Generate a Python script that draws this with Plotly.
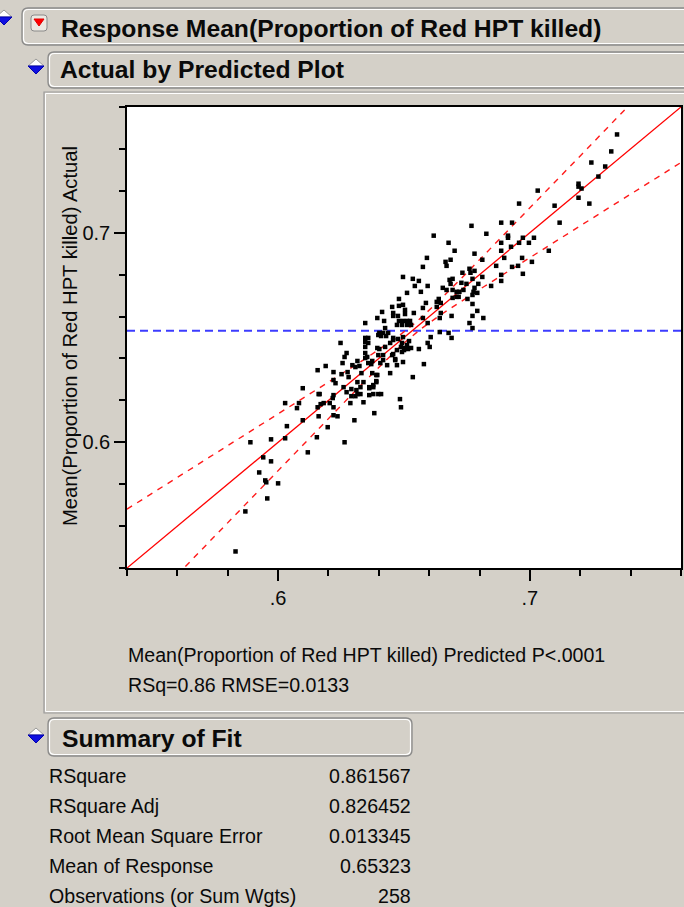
import numpy as np
import plotly.graph_objects as go

# ---------------- data ----------------
predicted = [
    0.7346, 0.7323, 0.7244, 0.7299, 0.7272, 0.7193, 0.7193, 0.7205, 0.7031, 0.7193,
    0.7236, 0.7098, 0.7118, 0.7016, 0.6957, 0.6768, 0.6886, 0.6929, 0.6827, 0.6618,
    0.6913, 0.6913, 0.6972, 0.6677, 0.6886, 0.6957, 0.6996, 0.6925, 0.6701, 0.6886,
    0.7075, 0.6780, 0.6591, 0.6898, 0.6969, 0.6665, 0.6669, 0.6685, 0.6866, 0.7008,
    0.6953, 0.6575, 0.6780, 0.6732, 0.6764, 0.6972, 0.6496, 0.6535, 0.6559, 0.6886,
    0.6886, 0.6811, 0.6693, 0.6728, 0.6748, 0.6795, 0.6846, 0.6685, 0.6594, 0.6543,
    0.6654, 0.6669, 0.6693, 0.6709, 0.6720, 0.6736, 0.6512, 0.6567, 0.6776, 0.6791,
    0.6709, 0.6717, 0.6752, 0.6638, 0.6480, 0.6587, 0.6630, 0.6646, 0.6772, 0.6453,
    0.6496, 0.6504, 0.6630, 0.6575, 0.6791, 0.6413, 0.6457, 0.6539, 0.6646, 0.6689,
    0.6772, 0.6394, 0.6480, 0.6496, 0.6512, 0.6524, 0.6575, 0.6642, 0.6815, 0.6421,
    0.6760, 0.6346, 0.6472, 0.6492, 0.6512, 0.6528, 0.6594, 0.6642, 0.6677, 0.6772,
    0.6398, 0.6437, 0.6425, 0.6409, 0.6346, 0.6358, 0.6346, 0.6358, 0.6346, 0.6457,
    0.6496, 0.6520, 0.6492, 0.6512, 0.6606, 0.6689, 0.6594, 0.6602, 0.6394, 0.6425,
    0.6488, 0.6504, 0.6516, 0.6528, 0.6559, 0.6346, 0.6453, 0.6492, 0.6398, 0.6374,
    0.6358, 0.6417, 0.6465, 0.6472, 0.6496, 0.6579, 0.6346, 0.6374, 0.6390, 0.6535,
    0.6378, 0.6362, 0.6480, 0.6457, 0.6476, 0.6504, 0.6402, 0.6417, 0.6248, 0.6429,
    0.6457, 0.6445, 0.6476, 0.6500, 0.6272, 0.6264, 0.6354, 0.6402, 0.6472, 0.6417,
    0.6457, 0.6465, 0.6315, 0.6370, 0.6406, 0.6256, 0.6295, 0.6323, 0.6433, 0.6189,
    0.6157, 0.6220, 0.6276, 0.6252, 0.6280, 0.6331, 0.6394, 0.6445, 0.6220, 0.6228,
    0.6315, 0.6390, 0.6362, 0.6378, 0.6327, 0.6098, 0.6260, 0.6291, 0.6165, 0.6220,
    0.6217, 0.6307, 0.6362, 0.6409, 0.6484, 0.6083, 0.6028, 0.6075, 0.6181, 0.6220,
    0.6287, 0.6339, 0.6307, 0.6161, 0.6157, 0.6169, 0.6205, 0.6236, 0.6220, 0.6161,
    0.6303, 0.6035, 0.6197, 0.5890, 0.5972, 0.6028, 0.6154, 0.6264, 0.6118, 0.5941,
    0.5972, 0.5925, 0.5949, 0.5953, 0.6000, 0.5957, 0.5870, 0.5831, 0.6272, 0.6291,
    0.6315, 0.6311, 0.6339, 0.6390, 0.6378, 0.6398, 0.6327, 0.6488, 0.6382, 0.6098,
    0.6929, 0.6760, 0.6772, 0.6681, 0.6693, 0.6772, 0.6780, 0.6811,
]
actual = [
    0.7469, 0.7388, 0.7335, 0.7316, 0.7268, 0.7234, 0.7220, 0.7211, 0.7201, 0.7167,
    0.7139, 0.7129, 0.7048, 0.6976, 0.7139, 0.7033, 0.7048, 0.7048, 0.6995, 0.6986,
    0.6986, 0.6976, 0.6976, 0.6952, 0.6952, 0.6952, 0.6952, 0.6933, 0.6914, 0.6914,
    0.6914, 0.6900, 0.6880, 0.6880, 0.6880, 0.6861, 0.6842, 0.6871, 0.6842, 0.6861,
    0.6842, 0.6837, 0.6818, 0.6809, 0.6809, 0.6804, 0.6789, 0.6780, 0.6770, 0.6799,
    0.6770, 0.6789, 0.6780, 0.6761, 0.6756, 0.6756, 0.6746, 0.6756, 0.6746, 0.6746,
    0.6737, 0.6727, 0.6727, 0.6718, 0.6718, 0.6727, 0.6713, 0.6718, 0.6718, 0.6713,
    0.6694, 0.6694, 0.6684, 0.6684, 0.6684, 0.6665, 0.6670, 0.6665, 0.6660, 0.6646,
    0.6656, 0.6632, 0.6646, 0.6641, 0.6627, 0.6622, 0.6617, 0.6617, 0.6617, 0.6603,
    0.6603, 0.6593, 0.6579, 0.6579, 0.6579, 0.6579, 0.6593, 0.6593, 0.6593, 0.6579,
    0.6569, 0.6569, 0.6560, 0.6560, 0.6560, 0.6560, 0.6569, 0.6526, 0.6522, 0.6545,
    0.6512, 0.6522, 0.6545, 0.6507, 0.6498, 0.6498, 0.6478, 0.6474, 0.6455, 0.6498,
    0.6502, 0.6483, 0.6474, 0.6464, 0.6502, 0.6498, 0.6474, 0.6455, 0.6450, 0.6455,
    0.6455, 0.6450, 0.6445, 0.6450, 0.6445, 0.6426, 0.6416, 0.6431, 0.6416, 0.6388,
    0.6378, 0.6392, 0.6392, 0.6368, 0.6383, 0.6373, 0.6402, 0.6330, 0.6321, 0.6311,
    0.6273, 0.6263, 0.6651, 0.6603, 0.6603, 0.6612, 0.6522, 0.6522, 0.6474, 0.6507,
    0.6488, 0.6474, 0.6493, 0.6440, 0.6426, 0.6407, 0.6407, 0.6445, 0.6440, 0.6416,
    0.6421, 0.6397, 0.6388, 0.6373, 0.6378, 0.6378, 0.6368, 0.6364, 0.6368, 0.6364,
    0.6344, 0.6335, 0.6335, 0.6325, 0.6311, 0.6330, 0.6321, 0.6330, 0.6297, 0.6282,
    0.6287, 0.6292, 0.6258, 0.6263, 0.6263, 0.6258, 0.6263, 0.6254, 0.6230, 0.6225,
    0.6211, 0.6220, 0.6225, 0.6230, 0.6206, 0.6187, 0.6187, 0.6163, 0.6187, 0.6167,
    0.6187, 0.6191, 0.6359, 0.6230, 0.6167, 0.6182, 0.6187, 0.6124, 0.6129, 0.6124,
    0.6105, 0.6077, 0.6072, 0.6000, 0.6014, 0.6019, 0.6024, 0.6000, 0.5952, 0.5928,
    0.5909, 0.5856, 0.5818, 0.5809, 0.5804, 0.5732, 0.5670, 0.5479, 0.6239, 0.6220,
    0.6230, 0.6249, 0.6287, 0.6287, 0.6230, 0.6230, 0.6230, 0.6167, 0.6139, 0.6105,
    0.6837, 0.6828, 0.6780, 0.6775, 0.6689, 0.6703, 0.6737, 0.6871,
]

axis_range = [0.54, 0.76]
x_tickvals = [0.6, 0.7]
x_ticktext = [".6", ".7"]
y_tickvals = [0.6, 0.7]
y_ticktext = ["0.6", "0.7"]
minor_step = 0.02

mean_response = 0.65323
ci_slope = 0.247      # half-width growth of the confidence curves
ci_center = 0.0025    # half-width at the mean

summary_labels = ["RSquare", "RSquare Adj", "Root Mean Square Error",
                  "Mean of Response", "Observations (or Sum Wgts)"]
summary_values = ["0.861567", "0.826452", "0.013345", "0.65323", "258"]

title_main = "Response Mean(Proportion of Red HPT killed)"
title_plot = "Actual by Predicted Plot"
title_summary = "Summary of Fit"
y_title = "Mean(Proportion of Red HPT killed) Actual"
x_caption_1 = "Mean(Proportion of Red HPT killed) Predicted P&lt;.0001"
x_caption_2 = "RSq=0.86 RMSE=0.0133"

# ---------------- layout helpers (pixel -> paper) ----------------
W, H = 684, 907
BG = "#d4d0c8"
FONT = "Liberation Sans, Arial, sans-serif"
TXT = "#0a0a0a"


def X(px):
    return px / W


def Y(py):
    return 1 - py / H


def rrect_path(x0, y0, x1, y1, r):
    pts = [
        ("M", (x0 + r, y0)), ("L", (x1 - r, y0)), ("Q", (x1, y0), (x1, y0 + r)),
        ("L", (x1, y1 - r)), ("Q", (x1, y1), (x1 - r, y1)), ("L", (x0 + r, y1)),
        ("Q", (x0, y1), (x0, y1 - r)), ("L", (x0, y0 + r)), ("Q", (x0, y0), (x0 + r, y0)),
    ]
    s = ""
    for item in pts:
        cmd = item[0]
        coords = " ".join(f"{X(p[0]):.5f},{Y(p[1]):.5f}" for p in item[1:])
        s += f"{cmd} {coords} "
    return s + "Z"


def poly_path(points):
    s = "M " + " L ".join(f"{X(a):.5f},{Y(b):.5f}" for a, b in points)
    return s + " Z"


shapes = []
annotations = []


def header_box(x0, y0, x1, y1):
    shapes.append(dict(type="path", xref="paper", yref="paper",
                       path=rrect_path(x0 + 1.5, y0 + 1.5, x1 - 1.5, y1 - 1.5, 5),
                       line=dict(color="white", width=1.2), layer="below"))
    shapes.append(dict(type="path", xref="paper", yref="paper",
                       path=rrect_path(x0, y0, x1, y1, 6),
                       line=dict(color="#8a8a8a", width=1.3), layer="below"))


def disclosure(cx, cy):
    # white top half, blue bottom half
    shapes.append(dict(type="path", xref="paper", yref="paper",
                       path=poly_path([(cx - 8, cy), (cx, cy - 7), (cx + 8, cy)]),
                       fillcolor="white", line=dict(color="#9a9a9a", width=1)))
    shapes.append(dict(type="path", xref="paper", yref="paper",
                       path=poly_path([(cx - 8, cy), (cx + 8, cy), (cx, cy + 8)]),
                       fillcolor="#1010e0", line=dict(color="#0000b0", width=1)))


# panel frame around plot
shapes.append(dict(type="rect", xref="paper", yref="paper",
                   x0=X(45.5), x1=X(700), y0=Y(711.5), y1=Y(93.5),
                   line=dict(color="white", width=1), layer="below"))
shapes.append(dict(type="rect", xref="paper", yref="paper",
                   x0=X(44), x1=X(700), y0=Y(713), y1=Y(92),
                   line=dict(color="#9a9a9a", width=1.2), layer="below"))

header_box(22, 8, 720, 45)
header_box(48, 52, 720, 88)
header_box(48, 718, 412, 756)

disclosure(4, 17)
disclosure(36, 66)
disclosure(36, 735)

# red popup menu icon
shapes.append(dict(type="path", xref="paper", yref="paper",
                   path=rrect_path(31, 15, 47, 31, 3),
                   fillcolor="#ece9e2", line=dict(color="#8a8a8a", width=1)))
shapes.append(dict(type="path", xref="paper", yref="paper",
                   path=poly_path([(34, 19), (44, 19), (39, 26)]),
                   fillcolor="#ff0000", line=dict(color="#e00000", width=1)))


def txt(text, px, py, size, bold=False, anchor="left", angle=0):
    annotations.append(dict(
        text=f"<b>{text}</b>" if bold else text, xref="paper", yref="paper",
        x=X(px), y=Y(py), xanchor=anchor, yanchor="middle", showarrow=False,
        textangle=angle, font=dict(family=FONT, size=size, color=TXT)))


txt(title_main, 59, 28, 24.7, bold=True)
txt(title_plot, 58, 70, 24.7, bold=True)
txt(title_summary, 60, 738, 24.7, bold=True)
txt(y_title, 70, 336, 20.2, anchor="center", angle=-90)
txt(x_caption_1, 126, 655, 19.6)
txt(x_caption_2, 126, 685, 19.6)
for i, (lab, val) in enumerate(zip(summary_labels, summary_values)):
    txt(lab, 47, 776 + 30 * i, 19.6)
    txt(val, 413, 776 + 30 * i, 19.6, anchor="right")

# ---------------- traces ----------------
fig = go.Figure()

grid = np.linspace(axis_range[0], axis_range[1], 300)
half = np.sqrt(ci_center ** 2 + (ci_slope * (grid - mean_response)) ** 2)

fig.add_trace(go.Scatter(x=axis_range, y=[mean_response, mean_response], mode="lines",
                         line=dict(color="#3c3cff", width=2, dash="8px,5px"),
                         hoverinfo="skip", showlegend=False))
fig.add_trace(go.Scatter(x=grid, y=grid + half, mode="lines",
                         line=dict(color="#ff1a1a", width=1.4, dash="6px,6px"),
                         hoverinfo="skip", showlegend=False))
fig.add_trace(go.Scatter(x=grid, y=grid - half, mode="lines",
                         line=dict(color="#ff1a1a", width=1.4, dash="6px,6px"),
                         hoverinfo="skip", showlegend=False))
fig.add_trace(go.Scatter(x=axis_range, y=axis_range, mode="lines",
                         line=dict(color="#ff0000", width=1.3),
                         hoverinfo="skip", showlegend=False))
fig.add_trace(go.Scatter(x=predicted, y=actual, mode="markers",
                         marker=dict(symbol="square", size=4.5, color="black",
                                     line=dict(width=0)),
                         showlegend=False))

axis_common = dict(
    range=axis_range, showgrid=False, zeroline=False, showline=True,
    linecolor="black", linewidth=1.5, mirror=True, ticks="outside",
    ticklen=11, tickwidth=1.5, tickcolor="black",
    tickfont=dict(family=FONT, size=20, color=TXT),
    minor=dict(tick0=axis_range[0], dtick=minor_step, ticks="outside",
               ticklen=6, tickwidth=1.5, tickcolor="black", showgrid=False),
    fixedrange=True,
)

fig.update_layout(
    width=W, height=H, autosize=False,
    margin=dict(l=0, r=0, t=0, b=0),
    paper_bgcolor=BG, plot_bgcolor="white",
    xaxis=dict(domain=[X(127), X(681)], tickvals=x_tickvals, ticktext=x_ticktext,
               anchor="y", **axis_common),
    yaxis=dict(domain=[Y(568), Y(107)], tickvals=y_tickvals, ticktext=y_ticktext,
               anchor="x", **axis_common),
    shapes=shapes, annotations=annotations,
    showlegend=False,
)

fig.write_html(
    "out.html",
    config={"displayModeBar": False},
    post_script="document.body.style.margin='0';document.body.style.padding='0';"
                "document.body.style.background='#d4d0c8';"
                "document.body.style.overflow='hidden';",
)
